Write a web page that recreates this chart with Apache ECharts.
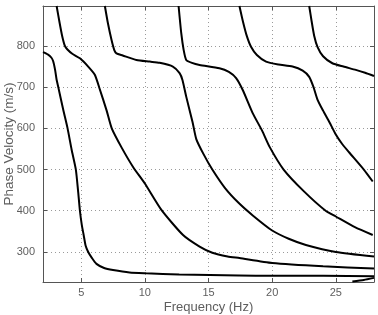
<!DOCTYPE html>
<html><head><meta charset="utf-8">
<script src="https://cdn.jsdelivr.net/npm/echarts@6/dist/echarts.min.js"></script>
<style>html,body{margin:0;padding:0;background:#fff}#c{width:378px;height:315px}</style>
</head><body><div id="c"></div>
<script>
// Axis ranges and tick labels
const xRange = [2, 28];
const yRange = [227, 897];
const xTickValues = [5, 10, 15, 20, 25];
const yTickValues = [300, 400, 500, 600, 700, 800];
const xName = 'Frequency (Hz)';
const yName = 'Phase Velocity (m/s)';

// Dispersion curves: [frequency (Hz), phase velocity (m/s)]
const mode0 = [[2.0,785],[2.4,779],[2.65,772],[2.8,763],[2.95,742],[3.07,718],[3.2,700],[3.59,645],[3.93,600],[4.25,548],[4.58,500],[4.75,450],[4.9,400],[5.05,365],[5.2,340],[5.35,315],[5.55,300],[5.85,285],[6.2,271],[6.8,261],[7.5,256],[8.8,250],[10.1,248],[12.7,245],[15.1,244],[17.4,243],[20,242],[24,242],[28,241]];
const mode1 = [[3.07,897],[3.3,857],[3.5,825],[3.72,800],[3.9,792],[4.3,781],[4.9,770],[5.55,750],[6.07,730],[6.46,695],[7.0,643],[7.4,600],[8.2,552],[9.1,505],[10.0,466],[11.3,402],[13.0,341],[14.3,313],[15.3,298],[16.5,289],[17.43,285],[20,273],[24,265],[28,260]];
const mode2 = [[6.86,897],[7.1,855],[7.38,815],[7.6,790],[7.77,782],[8.26,777],[9.34,766],[10.38,762],[11.16,759],[12.2,750],[12.73,734],[12.96,717],[13.25,677],[13.75,615],[14.04,574],[14.6,538],[15.3,500],[16.3,455],[17.4,418],[18.5,388],[20,352],[21.3,332],[22.65,317],[25,300],[28,289]];
const mode3 = [[12.65,897],[12.86,831],[13.05,790],[13.25,766],[13.7,759],[14.3,754],[15.86,746],[16.6,737],[17.17,722],[17.69,693],[18.47,637],[19.2,595],[19.8,555],[20.9,500],[22.5,447],[24.2,400],[25,386],[26.5,360],[27.9,341]];
const mode4 = [[17.43,897],[17.7,860],[18.0,825],[18.34,798],[18.8,778],[19.52,762],[20.5,755],[21.6,750],[22.4,740],[22.91,725],[23.25,700],[23.56,670],[24.0,643],[24.5,615],[25.0,585],[25.5,562],[26.04,542],[27.2,500],[27.9,471]];
const mode5 = [[22.91,897],[23.1,860],[23.3,825],[23.56,798],[24.0,775],[24.73,758],[25.6,750],[26.57,742],[27.3,735],[28,727]];
const mode6 = [[26.3,228],[27.2,232],[28,237]];
const modes = [mode0, mode1, mode2, mode3, mode4, mode5, mode6];

const chart = echarts.init(document.getElementById('c'), null, {renderer: 'canvas'});
const frameColor = '#555';
const textColor = '#5e5e5e';
const fontFamily = 'Liberation Sans, Arial, sans-serif';

function baseAxis(range, ticks, extra) {
  return Object.assign({
    type: 'value', min: range[0], max: range[1],
    axisLine: {show: true, onZero: false, lineStyle: {color: frameColor, width: 1}},
    axisTick: {show: true, inside: true, length: 4, customValues: ticks, lineStyle: {color: frameColor}},
    axisLabel: {show: true, customValues: ticks, color: textColor, fontSize: 11, fontFamily: fontFamily},
    splitLine: {show: true, lineStyle: {color: '#9a9a9a', type: [1, 3], width: 1}}
  }, extra);
}

chart.setOption({
  animation: false,
  backgroundColor: '#fff',
  grid: {left: 43, right: 4, top: 6, bottom: 33, show: false, containLabel: false, outerBoundsMode: 'none'},
  xAxis: [
    baseAxis(xRange, xTickValues, {position: 'bottom', name: xName, nameLocation: 'middle', nameGap: 19,
      nameMoveOverlap: false,
      nameTextStyle: {color: textColor, fontSize: 13, fontFamily: fontFamily},
      axisLabel: {show: true, customValues: xTickValues, color: textColor, fontSize: 11, fontFamily: fontFamily, margin: 5}}),
    baseAxis(xRange, xTickValues, {position: 'top', axisLabel: {show: false}, splitLine: {show: false}})
  ],
  yAxis: [
    baseAxis(yRange, yTickValues, {position: 'left', name: yName, nameLocation: 'middle', nameGap: 27,
      nameMoveOverlap: false,
      nameTextStyle: {color: textColor, fontSize: 13.5, fontFamily: fontFamily},
      axisLabel: {show: true, customValues: yTickValues, color: textColor, fontSize: 11, fontFamily: fontFamily, margin: 8}}),
    baseAxis(yRange, yTickValues, {position: 'right', axisLabel: {show: false}, splitLine: {show: false}})
  ],
  series: modes.map(function (m) {
    return {type: 'line', data: m, xAxisIndex: 0, yAxisIndex: 0, showSymbol: false, smooth: 0.2,
      clip: true, lineStyle: {color: '#000', width: 2}, z: 3};
  })
});
</script></body></html>
